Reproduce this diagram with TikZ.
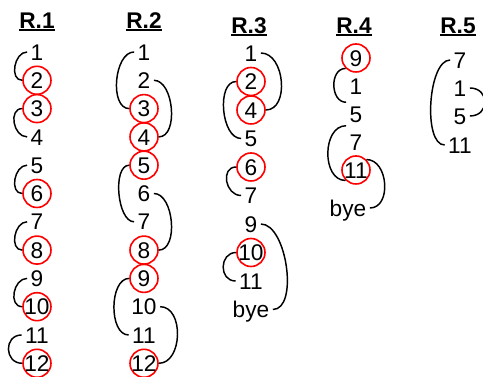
\documentclass[tikz,border=0pt]{standalone}
\usepackage{fontspec}
\setmainfont{Liberation Sans}
\definecolor{ringRed}{HTML}{FF0000}
\newcommand{\headline}[1]{%
    % bold title with a thick rule under it
    \setbox0\hbox{\bfseries #1}\rlap{\rule[-2.4pt]{\wd0}{1.4pt}}\box0}

\begin{document}
\begin{tikzpicture}[x=0.75pt, y=-0.75pt,
        font=\fontsize{17}{20}\selectfont,
        every node/.style={inner sep=2.5pt, text height=12.2pt, text depth=0pt},
        num/.style={},
        pick/.style={circle, draw=ringRed, line width=1.2pt, inner sep=-1pt, minimum size=21pt},
        brk/.style={line width=1.1pt},
        lb/.style={to path={.. controls +(-#1,0) and +(-#1,0) .. (\tikztotarget)}},
        rb/.style={to path={.. controls +(#1,0) and +(#1,0) .. (\tikztotarget)}}]
        \clip (0,0) rectangle (483,377);

        % Titles
        \node (t1) at (37,20) {\headline{R.1}};
        \node (t2) at (144,20) {\headline{R.2}};
        \node (t3) at (249,25) {\headline{R.3}};
        \node (t4) at (354,25) {\headline{R.4}};
        \node (t5) at (458,25) {\headline{R.5}};

        % R.1
        \foreach \n/\s [count=\i] in {1/num,2/pick,3/pick,4/num,5/num,6/pick,7/num,8/pick,9/num,10/pick,11/num,12/pick}
            \node[\s] (a\n) at (37,{52+(\i-1)*28.3}) {\n};
        \draw[brk] (a1.west) to[lb=13] (a2.west);
        \draw[brk] (a3.west) to[lb=14] (a4.west);
        \draw[brk] (a5.west) to[lb=13] (a6.west);
        \draw[brk] (a7.west) to[lb=13] (a8.west);
        \draw[brk] (a9.west) to[lb=14] (a10.west);
        \draw[brk] (a11.west) to[lb=18] (a12.west);

        % R.2
        \foreach \n/\s [count=\i] in {1/num,2/num,3/pick,4/pick,5/pick,6/num,7/num,8/pick,9/pick,10/num,11/num,12/pick}
            \node[\s] (b\n) at (144,{52+(\i-1)*28.3}) {\n};
        \draw[brk] (b1.west) to[lb=20] (b3.west);
        \draw[brk] (b2.east) to[rb=20] (b4.east);
        \draw[brk] (b5.west) to[lb=17] (b7.west);
        \draw[brk] (b6.east) to[rb=20] (b8.east);
        \draw[brk] (b9.west) to[lb=20] (b11.west);
        \draw[brk] (b10.east) to[rb=24] (b12.east);

        % R.3
        \foreach \n/\s [count=\i] in {1/num,2/pick,4/pick,5/num,6/pick,7/num,9/num,10/pick,11/num,bye/num}
            \node[\s] (c\n) at (251,{53+(\i-1)*28.5}) {\n};
        \draw[brk] (c1.east) to[rb=24] (c4.east);
        \draw[brk] (c2.west) to[lb=20] (c5.west);
        \draw[brk] (c6.west) to[lb=16] (c7.west);
        \draw[brk] (c10.west) to[lb=17] (c11.west);
        \draw[brk] (c9.east) to[rb=26] (cbye.east);

        % R.4
        \foreach \n/\s/\y in {9/pick/58,1/num/86,5/num/114,7/num/142,11/pick/170}
            \node[\s] (d\n) at (356,\y) {\n};
        \node (dbye) at (348,208) {bye};
        \draw[brk] (d9.south west) to[lb=16] (d5.north west);
        \draw[brk] (d5.south west) to[lb=24] (d11.south west);
        \draw[brk] (d11.north east) to[rb=22] (dbye.east);

        % R.5
        \foreach \n/\y in {7/60,1/88,5/116,11/145}
            \node (e\n) at (460,\y) {\n};
        \draw[brk] (e7.west) to[lb=22] (e11.west);
        \draw[brk] (e1.east) to[rb=20] (e5.east);
\end{tikzpicture}
\end{document}
